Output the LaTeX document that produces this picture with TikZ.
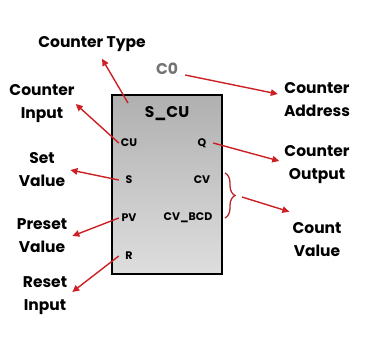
\documentclass[tikz,border=0pt]{standalone}
\usepackage{fontspec}
\setmainfont{Poppins}
\usetikzlibrary{arrows.meta, decorations.pathreplacing}
\definecolor{arrowred}{RGB}{204,32,36}
\definecolor{bracered}{RGB}{184,38,44}
\begin{document}
\begin{tikzpicture}[x=1pt, y=-1pt, every node/.style={font=\bfseries, inner sep=1pt},
  label/.style={align=center, font=\fontsize{15.5}{23}\selectfont\bfseries},
  port/.style={font=\fontsize{11}{13}\selectfont\bfseries, minimum width=20pt},
  edge/.style={arrowred, line width=1.4pt, -{Triangle[length=7pt, width=6.5pt]}}]
  \useasboundingbox (0,0) rectangle (374,345);
  % counter block
  \draw[line width=2.6pt, top color=black!31, bottom color=black!13] (112,95) rectangle (222,274);
  \node[font=\fontsize{15.5}{17}\selectfont\bfseries] (scu) at (167,114) {S\_CU};
  \node[port] (cu) at (129,143) {CU};
  \node[port] (s) at (129,180) {S};
  \node[port] (pv) at (129,218) {PV};
  \node[port] (r) at (129,256) {R};
  \node[port, minimum width=22pt] (q) at (202,143) {Q};
  \node[port] (cv) at (202,180) {CV};
  \node[port] (cvbcd) at (188,218) {CV\_BCD};
  \node[font=\fontsize{15.5}{17}\selectfont\bfseries, text=black!55] (c0) at (167,69) {C0};
  % descriptions
  \node[label] (ctype) at (92,44) {Counter Type};
  \node[label] (cin) at (42,104) {Counter\\Input};
  \node[label] (setv) at (42,170) {Set\\Value};
  \node[label] (prev) at (42,236) {Preset\\Value};
  \node[label] (rin) at (45,296) {Reset\\Input};
  \node[label] (caddr) at (317,100) {Counter\\Address};
  \node[label] (cout) at (317,165) {Counter\\Output};
  \node[label] (cval) at (317,240) {Count\\Value};
  % brace over the count outputs
  \coordinate (btop) at (225,173);
  \coordinate (bbot) at (225,218);
  \coordinate (btip) at (242,197);
  \coordinate (typept) at (128,103);
  \draw[bracered, line width=1.3pt, decorate, decoration={brace, amplitude=10pt}] (btop) -- (bbot);
  \draw[edge] (typept) -- ([shift={(10,6)}]ctype.south);
  \draw[edge] (c0.east) ++(6,6) -- ([shift={(-5,-6)}]caddr.west);
  \draw[edge] (cu.west) -- (cin.east);
  \draw[edge] (s.west) -- ([shift={(4,0)}]setv.east);
  \draw[edge] (pv.west) -- ([shift={(4,0)}]prev.east);
  \draw[edge] (r.west) -- ([shift={(4,-4)}]rin.east);
  \draw[edge] (q.east) -- ([shift={(-4,-4)}]cout.west);
  \draw[edge] (btip) -- ([shift={(-2,-10)}]cval.north west);
\end{tikzpicture}
\end{document}
